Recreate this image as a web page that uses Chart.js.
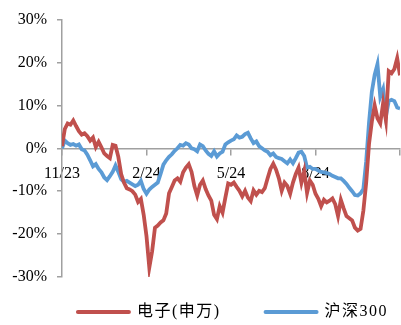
<!DOCTYPE html>
<html>
<head>
<meta charset="utf-8">
<script src="https://cdn.jsdelivr.net/npm/chart.js@4.4.1/dist/chart.umd.min.js"></script>
<style>
  html, body { margin: 0; padding: 0; background: #fff; }
  #wrap { width: 401px; height: 325px; }
</style>
</head>
<body>
<div id="wrap"><canvas id="c" width="401" height="325"></canvas></div>
<script>
// Cumulative return (%) since Nov 2023, sampled roughly every three calendar days
const electronics = [
  0.5, 4.5, 5.8, 5.5, 6.5, 5.2, 4.0, 3.2, 3.5, 2.8,
  1.8, 2.5, 0.3, 1.5, 0.2, -1.2, -1.8, -2.3, 0.8, 0.6,
  -2.0, -6.0, -8.0, -9.3, -9.6, -10.0, -10.8, -12.5, -11.8, -15.5,
  -20.5, -27.8, -24.0, -18.5, -18.0, -17.3, -16.8, -15.2, -10.5, -9.0,
  -7.5, -7.0, -7.8, -5.6, -4.5, -3.7, -5.5, -8.8, -11.0, -8.5,
  -7.5, -9.5, -11.0, -12.2, -15.5, -16.5, -13.5, -15.0, -11.5, -8.2,
  -8.5, -8.0, -9.0, -9.9, -11.2, -9.9, -11.5, -12.3, -9.8, -10.8,
  -9.9, -10.2, -9.3, -7.0, -4.8, -3.6, -5.0, -7.0, -9.9, -8.0,
  -8.8, -10.6, -8.0, -6.0, -4.5, -8.0, -5.3, -10.4, -7.5, -8.5,
  -10.6, -11.8, -13.5, -12.0, -12.6, -12.2, -11.7, -13.0, -15.8, -12.0,
  -14.0, -15.8, -16.3, -16.8, -18.5, -19.2, -18.8, -14.5, -8.0, 1.0,
  6.2, 10.0, 7.0, 5.8, 10.5, 6.5, 18.0, 17.5, 18.5, 21.0,
  17.0
];
const csi300 = [
  0.0, 1.8, 1.2, 0.8, 1.0, 0.6, 0.9, -0.2, -0.5, -1.5,
  -2.8, -4.2, -3.7, -4.8, -5.6, -6.8, -7.4, -6.5, -5.5, -4.0,
  -5.5, -7.2, -7.8, -7.6, -8.0, -8.4, -8.8, -8.5, -7.6, -9.5,
  -10.6, -9.6, -9.0, -8.5, -8.0, -6.0, -3.8, -2.8, -2.0, -1.4,
  -0.6, 0.0, 0.8, 0.6, 1.2, 0.9, 0.0, -0.2, -0.7, 0.9,
  0.5, -0.5, -1.3, -1.8, -0.7, -1.9, -1.2, -0.8, 0.9, 1.4,
  1.8, 2.1, 3.0, 2.5, 2.7, 3.3, 3.6, 2.3, 1.2, 1.6,
  0.5, 0.0, -0.5, -0.8, -1.6, -1.2, -2.0, -2.3, -2.5, -3.0,
  -3.5, -2.6, -3.5, -2.3, -1.0, -0.8, -1.8, -4.5, -4.3, -4.8,
  -4.8, -5.2, -5.5, -5.6, -5.8, -6.0, -6.4, -6.7, -7.0, -7.0,
  -7.6, -8.3, -9.2, -10.0, -10.9, -11.0, -10.5, -9.5, -3.0, 6.0,
  13.2, 17.1, 19.6, 12.0, 13.8, 7.5, 11.0, 11.3, 11.0, 9.5,
  9.3
];
// Month labels placed every 30 samples (one quarter)
const monthLabels = ['11/23', '2/24', '5/24', '8/24', ''];
const seriesNames = ['电子(申万)', '沪深300'];
const yTicks = [-30, -20, -10, 0, 10, 20, 30];

const RED = '#C0504D';
const BLUE = '#5B9BD5';
const AXIS = '#A0A0A0';
const FONT = "'Liberation Serif', 'Noto Sans CJK SC', serif";

const toPoints = arr => arr.map((v, i) => ({ x: i, y: v }));

// Bottom legend: a short thick line per series followed by its name
const lineLegend = {
  id: 'lineLegend',
  afterDraw(chart) {
    const { ctx, chartArea } = chart;
    const swatch = 55, textGap = 6, itemGap = 43, y = 312;
    ctx.save();
    ctx.font = '16px ' + FONT;
    if ('letterSpacing' in ctx) ctx.letterSpacing = '1.5px';
    const items = chart.data.datasets.map(ds => ({
      label: ds.label, color: ds.borderColor, w: ctx.measureText(ds.label).width
    }));
    const total = items.reduce((s, it) => s + swatch + textGap + it.w, 0) + itemGap * (items.length - 1);
    let x = (chartArea.left + chartArea.right) / 2 + 1 - total / 2;
    ctx.textBaseline = 'middle';
    ctx.textAlign = 'left';
    items.forEach(it => {
      ctx.strokeStyle = it.color;
      ctx.lineWidth = 4;
      ctx.lineCap = 'round';
      ctx.beginPath();
      ctx.moveTo(x + 2, y);
      ctx.lineTo(x + swatch - 2, y);
      ctx.stroke();
      ctx.fillStyle = '#000';
      ctx.fillText(it.label, x + swatch + textGap, y);
      x += swatch + textGap + it.w + itemGap;
    });
    ctx.restore();
  }
};

new Chart(document.getElementById('c'), {
  type: 'line',
  data: {
    datasets: [
      { label: seriesNames[0], data: toPoints(electronics), borderColor: RED, backgroundColor: RED,
        borderWidth: 3.8, pointRadius: 0, tension: 0 },
      { label: seriesNames[1], data: toPoints(csi300), borderColor: BLUE, backgroundColor: BLUE,
        borderWidth: 3.8, pointRadius: 0, tension: 0 }
    ]
  },
  options: {
    responsive: false,
    animation: false,
    devicePixelRatio: 1,
    layout: { padding: { left: 0, right: 1, top: 8, bottom: 48 } },
    plugins: {
      tooltip: { enabled: false },
      legend: { display: false }
    },
    scales: {
      x: {
        type: 'linear',
        position: { y: 0 },
        min: 0,
        max: (monthLabels.length - 1) * 30,
        afterBuildTicks: s => { s.ticks = monthLabels.map((_, i) => ({ value: i * 30 })); },
        afterFit: s => { s.paddingLeft = 0; s.paddingRight = 0; },
        ticks: {
          autoSkip: false,
          maxRotation: 0,
          padding: 10,
          color: '#000',
          font: { family: FONT, size: 16 },
          callback: v => monthLabels[Math.round(v / 30)]
        },
        grid: { drawOnChartArea: false, tickLength: 6, color: AXIS, lineWidth: 1.5 },
        border: { color: AXIS, width: 1.5 }
      },
      y: {
        min: -30,
        max: 30,
        afterBuildTicks: s => { s.ticks = yTicks.map(v => ({ value: v })); },
        afterFit: s => { s.width = 62; },
        ticks: {
          padding: 10,
          color: '#000',
          font: { family: FONT, size: 16 },
          callback: v => v + '%'
        },
        grid: { drawOnChartArea: false, tickLength: 5, color: AXIS, lineWidth: 1.5 },
        border: { color: AXIS, width: 1.5 }
      }
    }
  },
  plugins: [lineLegend]
});
</script>
</body>
</html>
